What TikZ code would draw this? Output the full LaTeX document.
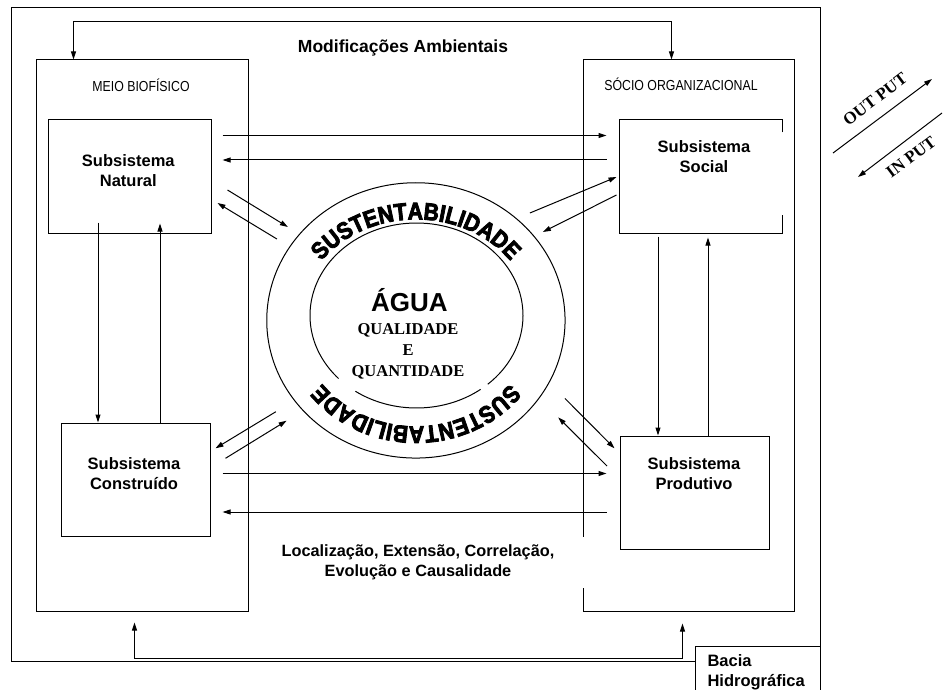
\documentclass[tikz,border=0pt]{standalone}
\usepackage{fontspec}
\setmainfont{Liberation Sans}
\newfontfamily\serifbf{Liberation Serif}
\newfontfamily\narrowfont[FakeStretch=0.85]{Liberation Sans}
\newfontfamily\sustfont[FakeStretch=0.88,FakeBold=3.5]{Liberation Sans}
\usetikzlibrary{arrows.meta,shapes.geometric,decorations.text}

\begin{document}
\begin{tikzpicture}[x=1pt, y=1pt, line width=1pt,
    arr/.style={-{Triangle[length=8pt,width=5pt]}},
    dblarr/.style={{Triangle[length=8pt,width=5pt]}-{Triangle[length=8pt,width=5pt]}},
    bigbox/.style={draw, minimum width=212pt, minimum height=551pt, inner sep=0pt},
    subbox/.style={draw, minimum height=113pt, inner sep=0pt},
    meiotext/.style={font=\narrowfont\fontsize{14.5}{17}\selectfont, inner sep=0pt, anchor=base},
    subtext/.style={font=\bfseries\fontsize{16.5}{20}\selectfont, align=center, inner sep=0pt, anchor=north},
    iotext/.style={font=\serifbf\bfseries\fontsize{17}{20}\selectfont, rotate=37, inner sep=0pt}]
            \clip (0,0) rectangle (943,-690);
            \fill[white] (0,0) rectangle (943,-690);

            \node[draw, minimum width=809pt, minimum height=653.5pt, inner sep=0pt] (frame) at (415.5,-334.75) {};
            \node[draw, fill=white, minimum width=125pt, minimum height=52pt, text width=100pt, align=left, inner xsep=12.5pt, font=\bfseries\fontsize{16.5}{20}\selectfont] (bacia) at (757.5,-672) {Bacia\\Hidrográfica};

            \node[bigbox] (biof) at (142,-335.5) {};
            \node[bigbox, minimum width=211pt] (sorg) at (688.5,-335.5) {};
            \node[meiotext] (biofT) at (141,-91.7) {MEIO BIOFÍSICO};
            \node[meiotext] (sorgT) at (681,-91) {SÓCIO ORGANIZACIONAL};
            \node[font=\bfseries\fontsize{17.5}{20}\selectfont, anchor=base, inner sep=0pt] (modT) at (403,-53) {Modificações Ambientais};

            \node[subbox, minimum width=163pt] (nat) at (129.5,-176.5) {};
            \node[subbox, draw=none, minimum width=162pt] (social) at (701,-176.5) {};
            \node[subbox, minimum width=149pt] (constr) at (135.5,-479.5) {};
            \node[subbox, minimum width=149pt] (prod) at (694.5,-492.5) {};
            \draw ([yshift=-13]social.north east) -- (social.north east) -- (social.north west)
                -- (social.south west) -- (social.south east) -- ([yshift=19]social.south east);

            \node[subtext] (natT) at (128.3,-154) {Subsistema\\Natural};
            \node[subtext] (socialT) at (704,-140) {Subsistema\\Social};
            \node[subtext] (constrT) at (134,-457.3) {Subsistema\\Construído};
            \node[subtext] (prodT) at (694,-457.3) {Subsistema\\Produtivo};

            \node[ellipse, draw, minimum width=298.3pt, minimum height=275.3pt, inner sep=0pt] (sust) at (415.9,-320.4) {};
            \coordinate (aguac) at (416.5,-315.5);
            \draw (aguac) ++(312:106.5pt and 92.5pt) arc[start angle=312, end angle=583, x radius=106.5pt, y radius=92.5pt];
            \draw (aguac) ++(235:106.5pt and 92.5pt) arc[start angle=235, end angle=307, x radius=106.5pt, y radius=92.5pt];
            \path[decorate, decoration={text along path, text align=center,
                text={|\sustfont\bfseries\fontsize{24}{24}\selectfont|SUSTENTABILIDADE}}]
                (sust.center) ++(150:117pt and 101pt) arc[start angle=150, end angle=30, x radius=117pt, y radius=101pt];
            \path[decorate, decoration={text along path, text align=center,
                text={|\sustfont\bfseries\fontsize{24}{24}\selectfont|SUSTENTABILIDADE}}]
                (sust.center) ++(330:117pt and 106pt) arc[start angle=330, end angle=210, x radius=117pt, y radius=106pt];
            \node[font=\bfseries\fontsize{26}{26}\selectfont, anchor=base, inner sep=0pt] (aguaT) at (409.5,-311.7) {ÁGUA};
            \node[font=\serifbf\bfseries\fontsize{16.5}{20.8}\selectfont, align=center, anchor=north, inner sep=0pt] (qualT) at (408,-323.3) {QUALIDADE\\E\\QUANTIDADE};

            \node[fill=white, minimum width=332pt, minimum height=51pt, inner sep=0pt, align=center, font=\bfseries\fontsize{16.3}{20}\selectfont] (locT) at (418,-562.4) {Localização, Extensão, Correlação,\\Evolução e Causalidade};

            \draw[dblarr] ([xshift=38]biof.north west) -- ++(0,38) -| ([xshift=89]sorg.north west);
            \draw[dblarr] ([shift={(99,-11)}]biof.south west) -- ++(0,-36) -| ([shift={(100,-12)}]sorg.south west);

            \draw[arr] ([shift={(-31.5,11)}]nat.south) -- ([xshift=-37.5]constr.north);
            \draw[arr] ([xshift=24.5]constr.north) -- ([shift={(30.5,10)}]nat.south);
            \draw[arr] ([shift={(-43,-3)}]social.south) -- ([xshift=-36.5]prod.north);
            \draw[arr] ([xshift=13.5]prod.north) -- ([shift={(7,-4)}]social.south);

            \draw[arr] ([shift={(11,41)}]nat.east) -- ([shift={(-13,41)}]social.west);
            \draw[arr] ([shift={(-13,16.5)}]social.west) -- ([shift={(11,16.5)}]nat.east);
            \draw[arr] ([shift={(12,6)}]constr.east) -- ([shift={(-13,19)}]prod.west);
            \draw[arr] ([shift={(-13,-19.5)}]prod.west) -- ([shift={(12,-32.5)}]constr.east);

            \draw[arr] ([shift={(16,-13.5)}]nat.east) -- ([shift={(-128,93.4)}]sust.center);
            \draw[arr] ([shift={(-139,81.4)}]sust.center) -- ([shift={(6,-26.5)}]nat.east);
            \draw[arr] ([shift={(114,107.4)}]sust.center) -- ([shift={(-3,-0.5)}]social.west);
            \draw[arr] ([shift={(-3,-18.5)}]social.west) -- ([shift={(127,88.4)}]sust.center);
            \draw[arr] ([shift={(-140,-91.3)}]sust.center) -- ([shift={(5,31.2)}]constr.east);
            \draw[arr] ([shift={(15,21.2)}]constr.east) -- ([shift={(-129.3,-100.3)}]sust.center);
            \draw[arr] ([shift={(149,-78)}]sust.center) -- ([shift={(-5,44.2)}]prod.west);
            \draw[arr] ([shift={(-12.5,26.5)}]prod.west) -- ([shift={(142.3,-97)}]sust.center);

            \coordinate (outA) at (833,-153);
            \coordinate (outB) at (932,-79);
            \coordinate (inA) at (942,-113);
            \coordinate (inB) at (858,-177);
            \draw[arr] (outA) -- (outB);
            \draw[arr] (inA) -- (inB);
            \node[iotext] (outT) at (875,-99) {OUT PUT};
            \node[iotext] (inT) at (911,-157) {IN PUT};
          \end{tikzpicture}
\end{document}
